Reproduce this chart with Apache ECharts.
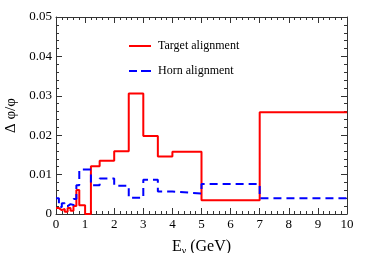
<!DOCTYPE html>
<html>
<head>
<meta charset="utf-8">
<script src="https://cdn.jsdelivr.net/npm/echarts@6/dist/echarts.min.js"></script>
<style>
html,body{margin:0;padding:0;background:#fff;}
#c{width:374px;height:253px;}
</style>
</head>
<body>
<div id="c"></div>
<script>
// Bin edges (GeV)
var binEdges = [0, 0.1, 0.2, 0.3, 0.4, 0.5, 0.6, 0.7, 0.8, 1.0, 1.2, 1.5, 2.0, 2.5, 3.0, 3.5, 4.0, 5.0, 7.0, 10.0];
// Target alignment Δφ/φ per bin
var targetValues = [0.0015, 0.0010, 0.0013, 0.0006, 0.0015, 0.0008, 0.0020, 0.0061, 0.0022, 0.0000, 0.0121, 0.0135, 0.0159, 0.0306, 0.0198, 0.0146, 0.0158, 0.0035, 0.0258];
// Horn alignment Δφ/φ per bin
var hornValues = [0.0040, 0.0018, 0.0027, 0.0020, 0.0025, 0.0023, 0.0038, 0.0073, 0.0113, 0.0113, 0.0073, 0.0090, 0.0072, 0.0041, 0.0087, 0.0057, 0.0052, 0.0076, 0.0040];
var seriesNames = ['Target alignment', 'Horn alignment'];

function histData(vals) {
  var d = [];
  for (var i = 0; i < vals.length; i++) d.push([binEdges[i], vals[i]]);
  d.push([binEdges[binEdges.length - 1], vals[vals.length - 1]]);
  return d;
}

var font = 'Liberation Serif';
var axisColor = '#333';
var chart = echarts.init(document.getElementById('c'));

function xAx(pos, labels) {
  return {
    type: 'value', position: pos, min: 0, max: 10, interval: 1,
    axisLine: {show: true, onZero: false, lineStyle: {color: axisColor, width: 1}},
    axisTick: {show: true, inside: true, length: 6, lineStyle: {color: axisColor}},
    minorTick: {show: true, splitNumber: 5, length: 3, lineStyle: {color: axisColor}},
    splitLine: {show: false},
    axisLabel: {show: labels, margin: 4, color: '#000', fontFamily: font, fontSize: 13},
    name: labels ? '{m|E}{s|ν}{m| (GeV)}' : '',
    nameLocation: 'middle', nameGap: 24,
    nameTextStyle: {color: '#000', fontFamily: font, fontSize: 16,
      rich: {
        m: {fontFamily: font, fontSize: 16, color: '#000', verticalAlign: 'middle', lineHeight: 18},
        s: {fontFamily: font, fontSize: 10, color: '#000', verticalAlign: 'bottom', lineHeight: 18, padding: [6, 0, 0, 0]}
      }}
  };
}
function yAx(pos, labels) {
  return {
    type: 'value', position: pos, min: 0, max: 0.05, interval: 0.01,
    axisLine: {show: true, onZero: false, lineStyle: {color: axisColor, width: 1}},
    axisTick: {show: true, inside: true, length: 6, lineStyle: {color: axisColor}},
    minorTick: {show: true, splitNumber: 5, length: 3, lineStyle: {color: axisColor}},
    splitLine: {show: false},
    axisLabel: {show: labels, margin: 4, color: '#000', fontFamily: font, fontSize: 13,
      formatter: function (v) { return v === 0 ? '0' : v.toFixed(2); }},
    name: labels ? 'Δ φ/φ' : '',
    nameLocation: 'middle', nameGap: 31, nameRotate: 90,
    nameTextStyle: {color: '#000', fontFamily: font, fontSize: 15}
  };
}

chart.setOption({
  animation: false,
  backgroundColor: '#fff',
  grid: {left: 56, right: 27, top: 17, bottom: 39, containLabel: false, outerBoundsMode: 'none'},
  xAxis: [xAx('bottom', true), xAx('top', false)],
  yAxis: [yAx('left', true), yAx('right', false)],
  legend: {
    orient: 'vertical', left: 124, top: 35, itemWidth: 22, itemHeight: 2, itemGap: 13,
    textStyle: {fontFamily: font, fontSize: 12, color: '#000', padding: [0, 0, 0, 2]},
    itemStyle: {borderWidth: 0},
    lineStyle: {width: 0},
    data: [
      {name: seriesNames[0], icon: 'path://M0,0h22v2h-22z'},
      {name: seriesNames[1], icon: 'path://M0,0h8v2h-8z M12,0h10v2h-10z'}
    ]
  },
  series: [
    {name: seriesNames[0], type: 'line', step: 'end', symbol: 'none', data: histData(targetValues),
      lineStyle: {color: '#ff0000', width: 2}, itemStyle: {color: '#ff0000'}},
    {name: seriesNames[1], type: 'line', step: 'end', symbol: 'none', data: histData(hornValues),
      lineStyle: {color: '#0000ff', width: 2, type: [8, 5]}, itemStyle: {color: '#0000ff'}}
  ]
});
</script>
</body>
</html>
